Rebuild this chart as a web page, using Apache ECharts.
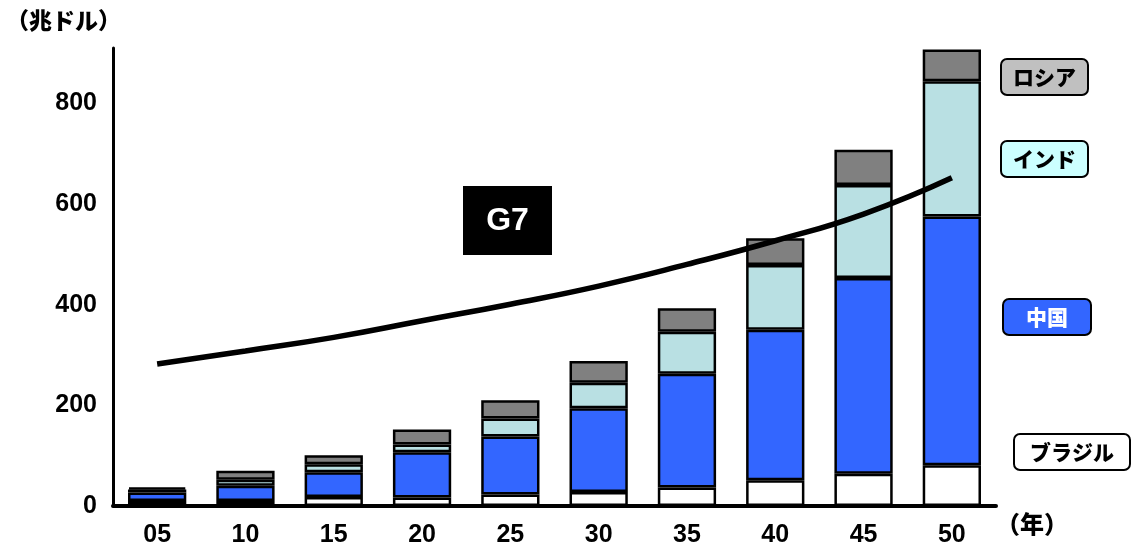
<!DOCTYPE html>
<html>
<head>
<meta charset="utf-8">
<script src="https://cdn.jsdelivr.net/npm/echarts@6/dist/echarts.min.js"></script>
<style>
  html, body { margin: 0; padding: 0; background: #fff; }
  #chart { width: 1134px; height: 548px; }
</style>
</head>
<body>
<div id="chart"></div>
<script>
// 年（2005〜2050）
const years = ['05', '10', '15', '20', '25', '30', '35', '40', '45', '50']

// 各国GDP（兆ドル）
const brazil = [10, 10, 18, 17, 23, 28, 37, 51, 64, 81]
const china = [17, 30, 49, 90, 115, 166, 226, 299, 389, 494]
const india = [6, 12, 16, 15, 36, 51, 83, 129, 185, 269]
const russia = [4, 18, 18, 30, 36, 43, 47, 53, 70, 63]

// G7合計
const g7 = [282, 308, 335, 368, 401, 437, 480, 527, 580, 652]

const numFont = '"Liberation Sans", Arial, sans-serif'
const jpFont = '"Noto Sans CJK JP", sans-serif'

const chart = echarts.init(document.getElementById('chart'))

// 棒グラフ共通
const barSeries = (name, data, color) => ({
  name,
  type: 'bar',
  stack: 'brics',
  barWidth: '66%',
  data,
  itemStyle: {
    color,
    borderColor: '#000',
    borderWidth: 2.5
  },
  z: 2
})

// 右側のラベル
const tag = (text, x, y, w, fill, textColor) => ({
  type: 'group',
  left: x,
  top: y,
  children: [
    {
      type: 'rect',
      shape: { x: 0, y: 0, width: w, height: 36, r: 6 },
      style: { fill, stroke: '#000', lineWidth: 2 }
    },
    {
      type: 'text',
      x: w / 2,
      y: 18,
      style: {
        text,
        fill: textColor,
        font: '900 21px ' + jpFont,
        align: 'center',
        verticalAlign: 'middle'
      }
    }
  ]
})

const option = {
  animation: false,
  backgroundColor: '#fff',
  grid: { left: 113, right: 138, top: 48, bottom: 42 },
  xAxis: {
    type: 'category',
    data: years,
    axisLine: { lineStyle: { color: '#000', width: 4 } },
    axisTick: { show: false },
    axisLabel: {
      color: '#000',
      fontFamily: numFont,
      fontWeight: 'bold',
      fontSize: 25,
      margin: 17
    }
  },
  yAxis: {
    type: 'value',
    min: 0,
    max: 910,
    interval: 200,
    splitLine: { show: false },
    axisTick: { show: false },
    axisLine: { show: true, lineStyle: { color: '#000', width: 3 } },
    axisLabel: {
      color: '#000',
      fontFamily: numFont,
      fontWeight: 'bold',
      fontSize: 25,
      margin: 16,
      formatter: (v) => (v % 200 === 0 ? String(v) : '')
    }
  },
  series: [
    barSeries('ブラジル', brazil, '#ffffff'),
    barSeries('中国', china, '#3366ff'),
    barSeries('インド', india, '#b9e0e3'),
    barSeries('ロシア', russia, '#808080'),
    {
      name: 'G7',
      type: 'line',
      data: g7,
      smooth: true,
      symbol: 'none',
      lineStyle: { color: '#000', width: 5.5 },
      z: 5
    }
  ],
  graphic: [
    {
      type: 'text',
      left: 6,
      top: 9,
      style: { text: '（兆ドル）', fill: '#000', font: '900 23px ' + jpFont }
    },
    {
      type: 'text',
      left: 996,
      top: 512,
      style: { text: '（年）', fill: '#000', font: '900 24px ' + jpFont }
    },
    {
      type: 'group',
      left: 463,
      top: 186,
      children: [
        { type: 'rect', shape: { x: 0, y: 0, width: 89, height: 69 }, style: { fill: '#000' } },
        {
          type: 'text',
          x: 44.5,
          y: 35,
          style: {
            text: 'G7',
            fill: '#fff',
            font: 'bold 32px ' + numFont,
            align: 'center',
            verticalAlign: 'middle'
          }
        }
      ]
    },
    tag('ロシア', 1000, 58, 87, '#c0c0c0', '#000'),
    tag('インド', 1000, 140, 87, '#ccffff', '#000'),
    tag('中国', 1002, 298, 88, '#3366ff', '#fff'),
    tag('ブラジル', 1013, 433, 116, '#ffffff', '#000')
  ]
}

chart.setOption(option)
</script>
</body>
</html>
